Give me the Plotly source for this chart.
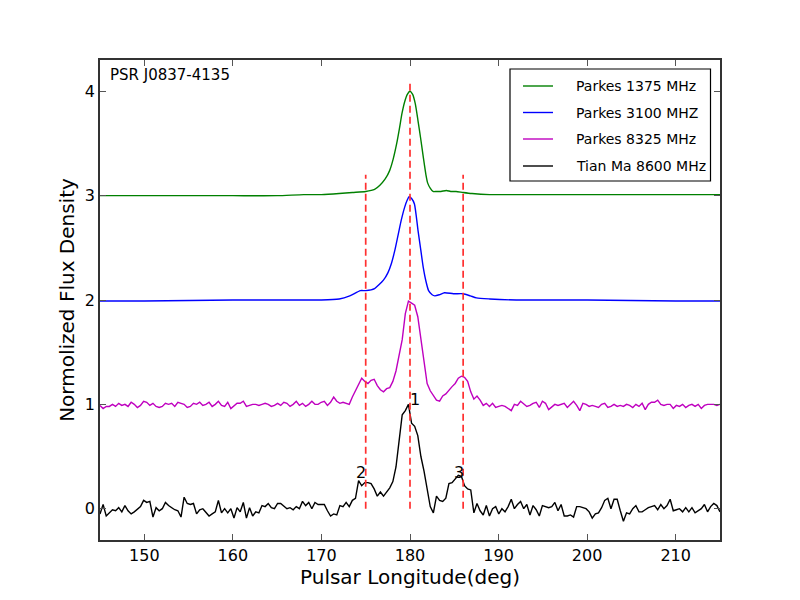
import numpy as np
import plotly.graph_objects as go

# %% Data
# Parkes 1375 MHz (offset +3)
green_lon = [145, 150, 155, 160, 165, 168, 170, 172, 173.5, 175, 176, 176.6, 177.2, 177.7,
             178.1, 178.5, 178.8, 179.1, 179.4, 179.7, 180.0, 180.3, 180.6, 180.9, 181.2,
             181.5, 181.8, 182.0, 182.3, 182.6, 183.0, 183.5, 184.1, 184.6, 185.2, 186.0,
             187.0, 189.0, 192, 195, 200, 205, 210, 215]
green_flux = [3.00, 3.00, 3.00, 3.00, 3.00, 3.01, 3.01, 3.02, 3.03, 3.04, 3.06, 3.10, 3.16, 3.24,
              3.35, 3.50, 3.64, 3.79, 3.90, 3.97, 4.00, 3.97, 3.88, 3.72, 3.55,
              3.37, 3.20, 3.12, 3.07, 3.04, 3.04, 3.04, 3.05, 3.04, 3.04, 3.03,
              3.02, 3.01, 3.01, 3.01, 3.01, 3.01, 3.01, 3.01]

# Parkes 3100 MHz (offset +2)
blue_lon = [145, 150, 160, 168, 170, 172, 173.2, 174.4, 175, 176, 177, 177.5, 177.9, 178.3,
            178.7, 179.0, 179.4, 179.7, 179.9, 180.2, 180.5, 180.9, 181.2, 181.5, 181.8,
            182.1, 182.5, 182.8, 183.3, 183.9, 184.9, 186.0, 186.8, 187.5, 189, 192, 200,
            210, 215]
blue_flux = [1.99, 1.99, 2.00, 2.00, 2.00, 2.01, 2.04, 2.09, 2.09, 2.11, 2.19, 2.26, 2.35, 2.48,
             2.64, 2.76, 2.89, 2.96, 2.99, 2.97, 2.92, 2.67, 2.49, 2.31, 2.18,
             2.09, 2.05, 2.04, 2.05, 2.07, 2.06, 2.06, 2.04, 2.02, 2.01, 2.00, 2.00,
             1.99, 1.99]

# Parkes 8325 MHz (offset +1), evenly sampled 145..215
magenta_flux = [
    0.99, 0.96, 0.98, 0.98, 1.00, 0.98, 1.01, 0.99, 1.00, 0.98, 1.02, 1.00, 0.97, 0.99, 1.03, 1.02, 0.99, 1.01, 0.98, 0.97,
    0.98, 1.01, 1.00, 1.01, 0.98, 1.02, 1.01, 1.00, 0.97, 0.98, 1.01, 1.00, 1.02, 0.99, 1.00, 1.02, 0.98, 1.00, 1.03, 0.99,
    0.98, 1.02, 0.96, 0.99, 1.01, 1.01, 1.03, 0.98, 0.99, 1.00, 1.00, 0.99, 1.00, 1.01, 1.00, 0.98, 0.99, 1.01, 0.99, 1.02,
    1.01, 0.98, 1.00, 1.03, 0.99, 1.01, 0.98, 1.00, 1.03, 1.00,
    1.00, 1.02, 1.03, 0.99, 1.02, 1.07, 1.03, 1.01, 1.02, 1.01, 1.00, 1.07, 1.13, 1.18, 1.25, 1.22, 1.20, 1.23, 1.24, 1.18,
    1.14, 1.12, 1.15, 1.16, 1.22, 1.32, 1.48, 1.62, 1.87, 1.99, 1.97, 1.95, 1.84, 1.62, 1.40, 1.20, 1.13, 1.09, 1.04, 1.03,
    1.08, 1.10, 1.14, 1.17, 1.20, 1.25, 1.27, 1.26, 1.22, 1.12, 1.05, 1.08, 1.04, 0.99, 1.01, 0.98,
    1.01, 0.97, 0.98, 0.99, 0.98, 0.96, 0.94, 1.00, 0.99, 1.03, 1.00, 0.98, 0.99, 1.01, 1.02, 0.97, 1.03, 1.01, 0.95, 0.98,
    1.00, 0.99, 1.00, 1.01, 0.97, 1.00, 1.03, 0.99, 0.94, 1.01, 1.00, 0.98, 0.99, 0.98, 0.97, 1.00, 1.01, 0.97, 0.98, 1.00,
    0.98, 0.99, 0.98, 1.00, 0.99, 0.97, 1.00, 0.98, 1.01, 0.95, 1.00, 1.02, 1.02, 1.04, 1.00, 0.99, 1.00, 1.00, 0.96, 0.99,
    0.98, 1.00, 0.97, 0.99, 1.00, 0.98, 1.00, 0.96, 0.99, 1.00, 1.00, 1.00, 0.99, 1.00,
]

# Tian Ma 8600 MHz (offset 0), evenly sampled 145..215
black_flux = [
    -0.05, 0.04, -0.07, -0.04, -0.01, -0.02, 0.01, -0.03, 0.03, -0.02, -0.05, -0.03, 0.00, 0.02, 0.08, 0.06, 0.07, -0.08, 0.01, -0.02,
    0.00, 0.06, 0.03, 0.01, -0.01, -0.02, -0.08, 0.11, 0.05, 0.04, 0.05, -0.05, -0.01, 0.00, -0.04, -0.07, -0.05, -0.03, 0.08, -0.04,
    0.00, -0.04, 0.00, -0.09, 0.01, -0.03, 0.06, -0.09, 0.01, -0.07, -0.03, -0.04, 0.03, 0.02, 0.05, 0.01, 0.00, 0.05, 0.05, 0.02,
    0.00, 0.01, -0.01, 0.02, 0.00, 0.07, 0.03, 0.06, 0.00, 0.06,
    0.04, 0.04, 0.04, -0.02, -0.07, -0.05, -0.06, 0.03, 0.02, 0.06, 0.02, 0.08, 0.10, 0.27, 0.22, 0.25, 0.25, 0.24, 0.19, 0.12,
    0.16, 0.12, 0.16, 0.20, 0.26, 0.40, 0.65, 0.90, 0.94, 1.00, 0.82, 0.79, 0.70, 0.50, 0.36, 0.18, 0.02, -0.04, 0.12, 0.08,
    0.07, 0.10, 0.24, 0.25, 0.28, 0.32, 0.31, 0.22, 0.19, 0.18, -0.04, 0.05, -0.02, -0.06, 0.03, -0.07,
    0.00, 0.02, -0.05, 0.00, -0.03, 0.02, 0.09, 0.00, 0.04, 0.07, 0.00, 0.04, -0.06, 0.03, -0.01, -0.07, 0.03, 0.02, 0.01, 0.02,
    0.06, -0.02, 0.04, -0.07, -0.07, -0.06, -0.08, 0.02, 0.02, 0.01, 0.00, -0.03, -0.09, -0.05, -0.04, 0.01, 0.08, 0.10, 0.00, 0.09,
    0.09, -0.02, -0.12, -0.04, -0.05, 0.00, 0.03, -0.03, -0.03, -0.01, 0.01, 0.02, 0.03, -0.01, 0.04, 0.00, 0.03, 0.09, -0.02, -0.01,
    0.00, -0.03, 0.01, -0.03, 0.01, -0.04, -0.02, 0.00, 0.04, -0.03, 0.02, 0.05, 0.03, -0.03,
]

series_names = ['Parkes 1375 MHz', 'Parkes 3100 MHZ', 'Parkes 8325 MHz', 'Tian Ma 8600 MHz']
series_colors = ['green', 'blue', '#bf00bf', 'black']

# Component markers: longitude, top of dashed line
marker_lon = [175, 180, 186]
marker_top = [3.2, 4.1, 3.2]

# Peak labels
label_text = ['1', '2', '3']
label_lon = [180.6, 174.5, 185.55]
label_flux = [1.05, 0.35, 0.35]

# %% Build figure
magenta_lon = np.linspace(145, 215, len(magenta_flux))
black_lon = np.linspace(145, 215, len(black_flux))

fig = go.Figure()
for lon, flux, color in [
    (green_lon, green_flux, series_colors[0]),
    (blue_lon, blue_flux, series_colors[1]),
    (magenta_lon, magenta_flux, series_colors[2]),
    (black_lon, black_flux, series_colors[3]),
]:
    fig.add_trace(go.Scatter(
        x=lon, y=flux, mode='lines', showlegend=False,
        line=dict(color=color, width=1.4, shape='spline' if len(lon) < 60 else 'linear', smoothing=0.6),
    ))

for lon, top in zip(marker_lon, marker_top):
    fig.add_trace(go.Scatter(
        x=[lon, lon], y=[0, top], mode='lines', showlegend=False,
        line=dict(color='#ff3030', width=1.7, dash='7px,4px'),
    ))

font = 'DejaVu Sans, sans-serif'
for txt, lon, flux in zip(label_text, label_lon, label_flux):
    fig.add_annotation(x=lon, y=flux, text=txt, showarrow=False,
                       xanchor='center', yanchor='middle',
                       font=dict(family=font, size=16, color='black'))

fig.add_annotation(x=(108 - 100) / 620, y=(540 - 75) / 480, xref='paper', yref='paper',
                   text='PSR J0837-4135', showarrow=False, xanchor='left', yanchor='middle',
                   font=dict(family=font, size=15, color='black'))

# hand-drawn legend box (matplotlib style)
fig.add_shape(type='rect', xref='paper', yref='paper',
              x0=(510 - 100) / 620, x1=(710.5 - 100) / 620,
              y0=(540 - 181) / 480, y1=(540 - 69) / 480,
              line=dict(color='black', width=1.2), fillcolor='white', layer='above')
row_px = [86, 112.5, 139, 166]
for name, color, py in zip(series_names, series_colors, row_px):
    yp = (540 - py) / 480
    fig.add_shape(type='line', xref='paper', yref='paper',
                  x0=(523 - 100) / 620, x1=(553 - 100) / 620, y0=yp, y1=yp,
                  line=dict(color=color, width=1.4), layer='above')
    fig.add_annotation(x=(574 - 100) / 620, y=yp, xref='paper', yref='paper',
                       text=name, showarrow=False, xanchor='left', yanchor='middle',
                       font=dict(family=font, size=14, color='black'))

axis_common = dict(
    showline=True, linecolor='#333333', linewidth=1.5, mirror='ticks',
    ticks='inside', ticklen=6, tickcolor='#555555', tickwidth=1,
    showgrid=False, zeroline=False,
    tickfont=dict(family=font, size=16, color='black'),
    title_font=dict(family=font, size=20, color='black'),
)
fig.update_xaxes(range=[145, 215], tickvals=[150, 160, 170, 180, 190, 200, 210],
                 title_text='Pulsar Longitude(deg)', title_standoff=4, **axis_common)
fig.update_yaxes(range=[-0.3, 4.3], tickvals=[0, 1, 2, 3, 4],
                 title_text='Normolized Flux Density', title_standoff=5, **axis_common)

# page body adds an 8px offset, so margins are shifted to keep the axes at 100..720 x 60..540
fig.update_layout(
    width=800, height=600,
    margin=dict(l=92, r=88, t=52, b=68),
    plot_bgcolor='white', paper_bgcolor='white',
    showlegend=False,
)

fig.write_html('out.html')
